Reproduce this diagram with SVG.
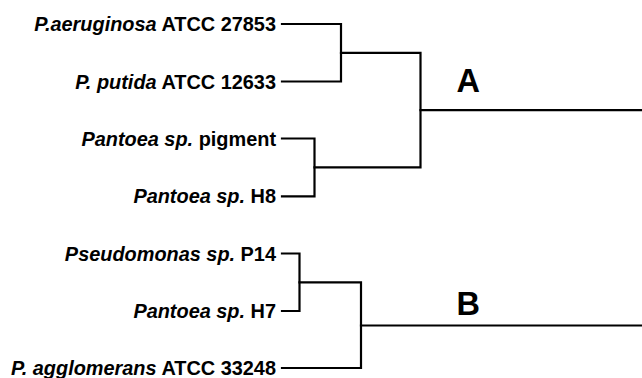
<svg xmlns="http://www.w3.org/2000/svg" width="642" height="378" viewBox="0 0 642 378">
<style>
.lbl{font-family:"Liberation Sans",Arial,sans-serif;font-weight:bold;font-size:19.9px;fill:#000;text-anchor:end}
.it{font-style:italic}
.cl{font-family:"Liberation Sans",Arial,sans-serif;font-weight:bold;font-size:32.5px;fill:#000}
.ln{fill:none;stroke:#000;stroke-width:2.2;stroke-linecap:square;stroke-linejoin:miter}
</style>
<rect width="642" height="378" fill="#fff"/>
<g id="leaf-aeruginosa"><text class="lbl" x="276" y="31"><tspan class="it">P.aeruginosa</tspan> ATCC 27853</text></g>
<g id="leaf-putida"><text class="lbl" x="276" y="88.5"><tspan class="it">P. putida</tspan> ATCC 12633</text></g>
<g id="leaf-pigment"><text class="lbl" x="276" y="145.5"><tspan class="it">Pantoea sp.</tspan> pigment</text></g>
<g id="leaf-h8"><text class="lbl" x="276" y="203.3"><tspan class="it">Pantoea sp.</tspan> H8</text></g>
<g id="leaf-p14"><text class="lbl" x="276" y="260.5"><tspan class="it">Pseudomonas sp.</tspan> P14</text></g>
<g id="leaf-h7"><text class="lbl" x="276" y="318"><tspan class="it">Pantoea sp.</tspan> H7</text></g>
<g id="leaf-agglomerans"><text class="lbl" x="276" y="375"><tspan class="it">P. agglomerans</tspan> ATCC 33248</text></g>
<g id="clade-A"><text class="cl" x="456.5" y="92.3">A</text></g>
<g id="clade-B"><text class="cl" x="456.5" y="315">B</text></g>
<g id="connectors">
<path class="ln" d="M282 24H341V81.5H282"/>
<path class="ln" d="M282 138.5H314.5V196.3H282"/>
<path class="ln" d="M341 52.8H420.5V167.4H314.5"/>
<path class="ln" d="M420.5 110.1H642"/>
<path class="ln" d="M282 253.5H299.5V311H282"/>
<path class="ln" d="M299.5 282.3H361V368H282"/>
<path class="ln" d="M361 325.5H642"/>
</g>
</svg>
